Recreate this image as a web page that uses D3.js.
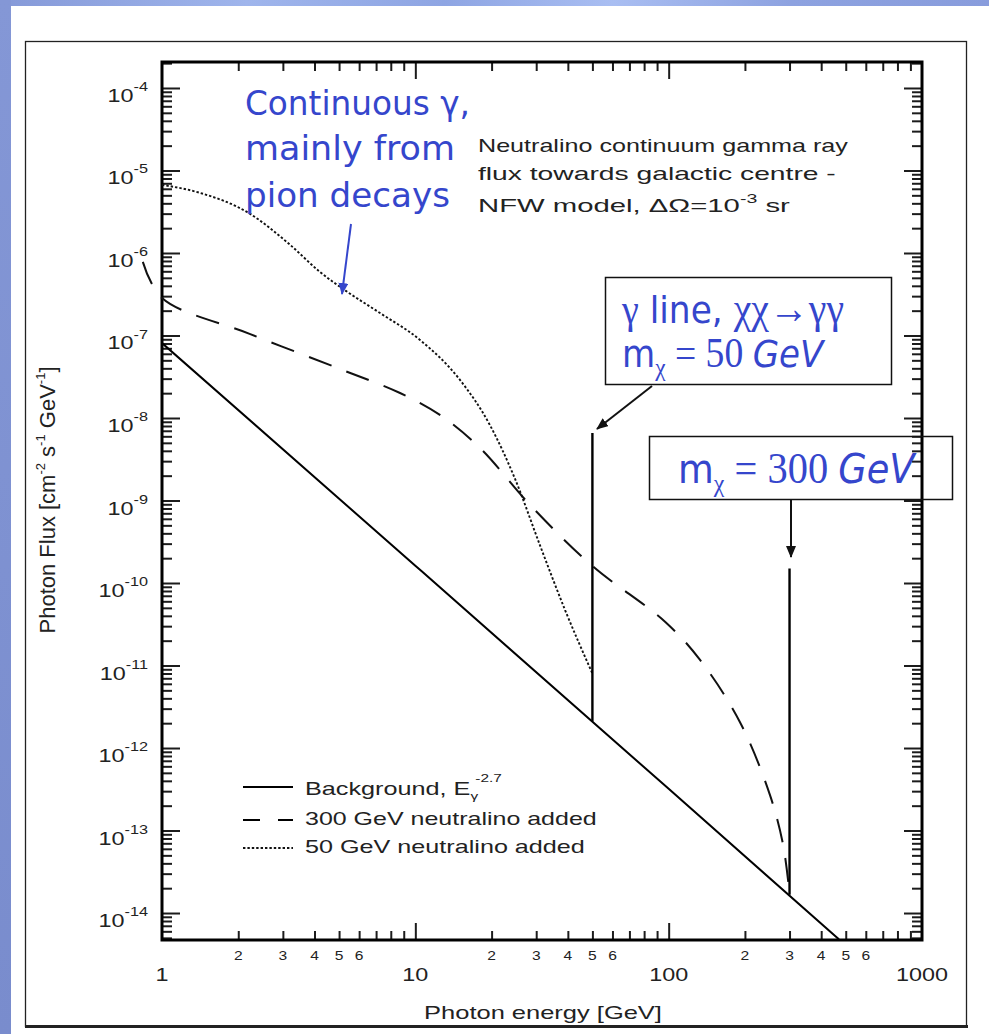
<!DOCTYPE html>
<html>
<head>
<meta charset="utf-8">
<script src="https://cdn.jsdelivr.net/npm/d3@7"></script>
<style>
  body { margin: 0; background: #fff; }
  svg { display: block; }
</style>
</head>
<body>
<script>
// ---- data: photon energy in GeV, flux in cm^-2 s^-1 GeV^-1 ----
const bgEnergy = [1, 10, 100, 470];
const bgFlux = [8.1e-8, 1.62e-10, 3.2e-13, 4.8e-15];

// background + 300 GeV neutralino continuum
const heavyEnergy = [0.84, 1, 2.23, 5.04, 8.7, 12.5, 18, 28.4, 50, 97, 133, 191, 251, 283, 300];
const heavyFlux = [7.8e-7, 2.85e-7, 1.04e-7, 3.93e-8, 2.01e-8, 1.09e-8, 4.33e-9, 8.8e-10, 1.61e-10, 3.37e-11, 1.17e-11, 2.07e-12, 2.7e-13, 6.7e-14, 1.7e-14];

// background + 50 GeV neutralino continuum
const lightEnergy = [1, 1.4, 2.2, 3.2, 4.2, 5.3, 7.2, 10.4, 15, 19.7, 24.8, 31, 39, 50];
const lightFlux = [6.7e-6, 5.4e-6, 3.05e-6, 1.26e-6, 5.9e-7, 3.5e-7, 1.9e-7, 8.9e-8, 2.9e-8, 8.2e-9, 1.8e-9, 2.9e-10, 4.7e-11, 8e-12];

// gamma lines chi chi -> gamma gamma
const lineMass = [50, 300];
const linePeak = [6.6e-9, 1.5e-10];
const lineBase = [2.1e-12, 1.66e-14];

// axis ticks
const yExponents = [-4, -5, -6, -7, -8, -9, -10, -11, -12, -13, -14];
const xMajorLabels = ["1", "10", "100", "1000"];
const xMajorValues = [1, 10, 100, 1000];
const xMinorDigits = [2, 3, 4, 5, 6];
const xDecades = [1, 10, 100];

const legendLabels = ["Background, E", "300 GeV neutralino added", "50 GeV neutralino added"];

// ---- layout ----
const W = 989, H = 1034;
const P = { left: 162, right: 922, top: 62, bottom: 940 };
const BLUE = "#3546cc";
const INK = "#1c1c1c";
const SANS = "'Liberation Sans', Arial, Helvetica, sans-serif";
const HAND = "'DejaVu Sans', 'Noto Sans', sans-serif";
const SERIF = "'Liberation Serif', 'DejaVu Serif', serif";

const svg = d3.select("body").append("svg").attr("width", W).attr("height", H);
const defs = svg.append("defs");

// slide backdrop bands
const gTop = defs.append("linearGradient").attr("id", "topBand");
[["0", "#8599d8"], ["0.25", "#9fb5ec"], ["0.45", "#8ea5e3"], ["0.62", "#a9bef2"], ["0.8", "#8da2e0"], ["1", "#889cdc"]]
  .forEach(([o, c]) => gTop.append("stop").attr("offset", o).attr("stop-color", c));
const gLeft = defs.append("linearGradient").attr("id", "leftBand")
  .attr("x1", 0).attr("x2", 0).attr("y1", 0).attr("y2", 1);
[["0", "#8497d6"], ["1", "#798ccd"]]
  .forEach(([o, c]) => gLeft.append("stop").attr("offset", o).attr("stop-color", c));

svg.append("rect").attr("width", W).attr("height", H).attr("fill", "#fff");
svg.append("rect").attr("x", 0).attr("y", 0).attr("width", W).attr("height", 6).attr("fill", "url(#topBand)");
svg.append("rect").attr("x", 0).attr("y", 0).attr("width", 11).attr("height", H).attr("fill", "url(#leftBand)");

// figure frame
svg.append("rect").attr("x", 25.5).attr("y", 41.5).attr("width", 941).attr("height", 985)
  .attr("fill", "none").attr("stroke", "#222").attr("stroke-width", 1.3);
svg.append("line").attr("x1", 25).attr("x2", 968).attr("y1", 1026.5).attr("y2", 1026.5)
  .attr("stroke", "#222").attr("stroke-width", 3);

// ---- scales ----
const x = d3.scaleLog().domain([1, 1000]).range([P.left, P.right]);
const y = d3.scaleLog().domain([Math.pow(10, -14.327), Math.pow(10, -3.685)]).range([P.bottom, P.top]);

// clip region for the plot interior
defs.append("clipPath").attr("id", "plotClip").append("rect")
  .attr("x", P.left).attr("y", P.top).attr("width", P.right - P.left).attr("height", P.bottom - P.top);

// ---- tick values ----
const yMajor = d3.range(-14, -3).map(e => Math.pow(10, e));
const yMinor = [];
d3.range(-15, -3).forEach(e => d3.range(2, 10).forEach(m => {
  const v = m * Math.pow(10, e);
  if (v > y.domain()[0] && v < y.domain()[1]) yMinor.push(v);
}));
const xMinor = [];
xDecades.forEach(d => d3.range(2, 10).forEach(m => xMinor.push(m * d)));
const xMajorInner = [10, 100];

function styleAxis(g) {
  g.select(".domain").remove();
  g.selectAll(".tick line").attr("stroke", INK).attr("stroke-width", 2);
  g.selectAll(".tick text").remove();
}

const axes = svg.append("g");
// left and right (ticks point inward)
axes.append("g").attr("transform", `translate(${P.left},0)`)
  .call(d3.axisLeft(y).tickValues(yMinor).tickSize(-10).tickSizeOuter(0)).call(styleAxis);
axes.append("g").attr("transform", `translate(${P.left},0)`)
  .call(d3.axisLeft(y).tickValues(yMajor).tickSize(-18).tickSizeOuter(0)).call(styleAxis);
axes.append("g").attr("transform", `translate(${P.right},0)`)
  .call(d3.axisRight(y).tickValues(yMinor).tickSize(-10).tickSizeOuter(0)).call(styleAxis);
axes.append("g").attr("transform", `translate(${P.right},0)`)
  .call(d3.axisRight(y).tickValues(yMajor).tickSize(-18).tickSizeOuter(0)).call(styleAxis);
// bottom and top
axes.append("g").attr("transform", `translate(0,${P.bottom})`)
  .call(d3.axisBottom(x).tickValues(xMinor.filter(v => !xMajorInner.includes(v))).tickSize(-9).tickSizeOuter(0)).call(styleAxis);
axes.append("g").attr("transform", `translate(0,${P.bottom})`)
  .call(d3.axisBottom(x).tickValues(xMajorInner).tickSize(-17).tickSizeOuter(0)).call(styleAxis);
axes.append("g").attr("transform", `translate(0,${P.top})`)
  .call(d3.axisTop(x).tickValues(xMinor.filter(v => !xMajorInner.includes(v))).tickSize(-9).tickSizeOuter(0)).call(styleAxis);
axes.append("g").attr("transform", `translate(0,${P.top})`)
  .call(d3.axisTop(x).tickValues(xMajorInner).tickSize(-17).tickSizeOuter(0)).call(styleAxis);

// plot box
svg.append("rect").attr("x", P.left).attr("y", P.top)
  .attr("width", P.right - P.left).attr("height", P.bottom - P.top)
  .attr("fill", "none").attr("stroke", "#000").attr("stroke-width", 3);

// ---- tick labels ----
const TS = 1.3; // horizontal stretch of the labels
const yLab = svg.append("g").attr("font-family", SANS).attr("fill", "#222");
yExponents.forEach(e => {
  const t = yLab.append("text")
    .attr("transform", `translate(148,${y(Math.pow(10, e)) + 14}) scale(${TS},1)`)
    .attr("text-anchor", "end");
  t.append("tspan").attr("font-size", 18).text("10");
  t.append("tspan").attr("font-size", 12.5).attr("dy", -11).text(String(e));
});

const xLab = svg.append("g").attr("font-family", SANS).attr("fill", "#222");
xMajorValues.forEach((v, i) => {
  xLab.append("text").attr("transform", `translate(${x(v)},981) scale(${TS},1)`)
    .attr("text-anchor", "middle").attr("font-size", 18).text(xMajorLabels[i]);
});
xDecades.forEach(d => xMinorDigits.forEach(m => {
  xLab.append("text").attr("transform", `translate(${x(m * d)},960) scale(${TS},1)`)
    .attr("text-anchor", "middle").attr("font-size", 12).text(String(m));
}));

// fit a text element horizontally to a given width
function fitText(t, px, py, width) {
  const w = t.node().getBBox().width;
  t.attr("transform", `translate(${px},${py}) scale(${width / w},1)`);
  return t;
}

// axis titles
const xTitle = svg.append("text").attr("font-family", SANS).attr("font-size", 18).attr("fill", "#222")
  .attr("text-anchor", "middle").text("Photon energy [GeV]");
fitText(xTitle, 543, 1019, 238);

const yTitle = svg.append("text").attr("font-family", SANS).attr("font-size", 22).attr("fill", "#222")
  .attr("text-anchor", "middle")
  .attr("transform", `translate(55,500) scale(1.0,1) rotate(-90)`);
yTitle.append("tspan").text("Photon Flux [cm");
yTitle.append("tspan").attr("font-size", 13).attr("dy", -10).text("-2");
yTitle.append("tspan").attr("dy", 10).text(" s");
yTitle.append("tspan").attr("font-size", 13).attr("dy", -10).text("-1");
yTitle.append("tspan").attr("dy", 10).text(" GeV");
yTitle.append("tspan").attr("font-size", 13).attr("dy", -10).text("-1");
yTitle.append("tspan").attr("dy", 10).text("]");

// ---- curves ----
const zip = (a, b) => a.map((v, i) => [v, b[i]]);
const curve = d3.line().x(d => x(d[0])).y(d => y(d[1])).curve(d3.curveMonotoneX);
const smooth = d3.line().x(d => x(d[0])).y(d => y(d[1])).curve(d3.curveCatmullRom.alpha(0.5));

svg.append("path").attr("d", curve(zip(bgEnergy, bgFlux))).attr("clip-path", "url(#plotClip)")
  .attr("fill", "none").attr("stroke", "#000").attr("stroke-width", 2);
svg.append("path").attr("d", smooth(zip(heavyEnergy, heavyFlux)))
  .attr("fill", "none").attr("stroke", "#111").attr("stroke-width", 2).attr("stroke-dasharray", "24 16");
svg.append("path").attr("d", curve(zip(lightEnergy, lightFlux)))
  .attr("fill", "none").attr("stroke", "#111").attr("stroke-width", 1.9).attr("stroke-dasharray", "2.4 2");

svg.append("g").selectAll("line").data(lineMass).join("line")
  .attr("x1", d => x(d)).attr("x2", d => x(d))
  .attr("y1", (d, i) => y(linePeak[i])).attr("y2", (d, i) => y(lineBase[i]))
  .attr("stroke", "#000").attr("stroke-width", 2.4);

// ---- legend ----
const lg = svg.append("g");
const legendRows = [787, 820, 848];
const legendText = [795, 825, 853];
lg.append("line").attr("x1", 243).attr("x2", 293).attr("y1", legendRows[0]).attr("y2", legendRows[0])
  .attr("stroke", "#000").attr("stroke-width", 2);
lg.append("line").attr("x1", 243).attr("x2", 293).attr("y1", legendRows[1]).attr("y2", legendRows[1])
  .attr("stroke", "#000").attr("stroke-width", 2).attr("stroke-dasharray", "17 18 15");
lg.append("line").attr("x1", 243).attr("x2", 293).attr("y1", legendRows[2]).attr("y2", legendRows[2])
  .attr("stroke", "#111").attr("stroke-width", 1.9).attr("stroke-dasharray", "2.4 2");

const l1 = lg.append("text").attr("font-family", SANS).attr("font-size", 18).attr("fill", "#222");
l1.append("tspan").text(legendLabels[0]);
l1.append("tspan").attr("font-size", 11).attr("dy", 5).text("γ");
l1.append("tspan").attr("font-size", 11).attr("dy", -18).attr("dx", -2).text("-2.7");
fitText(l1, 305, legendText[0], 197);
fitText(lg.append("text").attr("font-family", SANS).attr("font-size", 18).attr("fill", "#222").text(legendLabels[1]),
  305, legendText[1], 292);
fitText(lg.append("text").attr("font-family", SANS).attr("font-size", 18).attr("fill", "#222").text(legendLabels[2]),
  305, legendText[2], 280);

// ---- figure caption inside the plot ----
const cap = svg.append("g").attr("font-family", SANS).attr("font-size", 18).attr("fill", "#222");
fitText(cap.append("text").text("Neutralino continuum gamma ray"), 478, 152, 370);
fitText(cap.append("text").text("flux towards galactic centre -"), 478, 180, 358);
const c3 = cap.append("text");
c3.append("tspan").text("NFW model, ΔΩ=10");
c3.append("tspan").attr("font-size", 12).attr("dy", -9).text("-3");
c3.append("tspan").attr("dy", 9).text(" sr");
fitText(c3, 478, 212, 312);

// ---- annotations ----
function marker(id, color) {
  defs.append("marker").attr("id", id).attr("viewBox", "0 0 12 10").attr("refX", 11).attr("refY", 5)
    .attr("markerWidth", 12).attr("markerHeight", 10).attr("markerUnits", "userSpaceOnUse")
    .attr("orient", "auto")
    .append("path").attr("d", "M0,0L12,5L0,10Z").attr("fill", color);
}
marker("arrowBlue", BLUE);
marker("arrowInk", "#111");

const note = svg.append("g").attr("font-family", HAND).attr("font-size", 33).attr("fill", BLUE);
fitText(note.append("text").text("Continuous γ,"), 245, 115, 225);
fitText(note.append("text").text("mainly from"), 245, 160, 210);
fitText(note.append("text").text("pion decays"), 245, 207, 205);
svg.append("line").attr("x1", 351).attr("y1", 224).attr("x2", 342).attr("y2", 294)
  .attr("stroke", BLUE).attr("stroke-width", 2).attr("marker-end", "url(#arrowBlue)");

// 50 GeV line callout
svg.append("rect").attr("x", 605.5).attr("y", 277.5).attr("width", 286).attr("height", 107)
  .attr("fill", "#fff").attr("stroke", "#111").attr("stroke-width", 1.5);
const b1 = svg.append("text").attr("font-size", 38).attr("fill", BLUE);
b1.append("tspan").attr("font-family", SERIF).attr("font-size", 42).text("γ");
b1.append("tspan").attr("font-family", HAND).text(" line, ");
b1.append("tspan").attr("font-family", SERIF).attr("font-size", 44).text("χχ→γγ");
fitText(b1, 622, 323, 223);
const b2 = svg.append("text").attr("font-size", 38).attr("fill", BLUE);
b2.append("tspan").attr("font-family", HAND).text("m");
b2.append("tspan").attr("font-family", SERIF).attr("font-size", 26).attr("dy", 9).text("χ");
b2.append("tspan").attr("font-family", SERIF).attr("font-size", 42).attr("dy", -9).text(" = 50 ");
b2.append("tspan").attr("font-family", HAND).attr("font-style", "italic").text("GeV");
fitText(b2, 622, 367, 204);
svg.append("line").attr("x1", 652).attr("y1", 386).attr("x2", 597).attr("y2", 429)
  .attr("stroke", "#111").attr("stroke-width", 2).attr("marker-end", "url(#arrowInk)");

// 300 GeV line callout
svg.append("rect").attr("x", 649.5).attr("y", 436.5).attr("width", 303).attr("height", 63)
  .attr("fill", "none").attr("stroke", "#111").attr("stroke-width", 1.5);
const b3 = svg.append("text").attr("font-size", 40).attr("fill", BLUE);
b3.append("tspan").attr("font-family", HAND).text("m");
b3.append("tspan").attr("font-family", SERIF).attr("font-size", 26).attr("dy", 9).text("χ");
b3.append("tspan").attr("font-family", SERIF).attr("font-size", 44).attr("dy", -9).text(" = 300 ");
b3.append("tspan").attr("font-family", HAND).attr("font-style", "italic").text("GeV");
fitText(b3, 678, 483, 239);
svg.append("line").attr("x1", 791).attr("y1", 500).attr("x2", 791).attr("y2", 557)
  .attr("stroke", "#111").attr("stroke-width", 2).attr("marker-end", "url(#arrowInk)");
</script>
</body>
</html>
